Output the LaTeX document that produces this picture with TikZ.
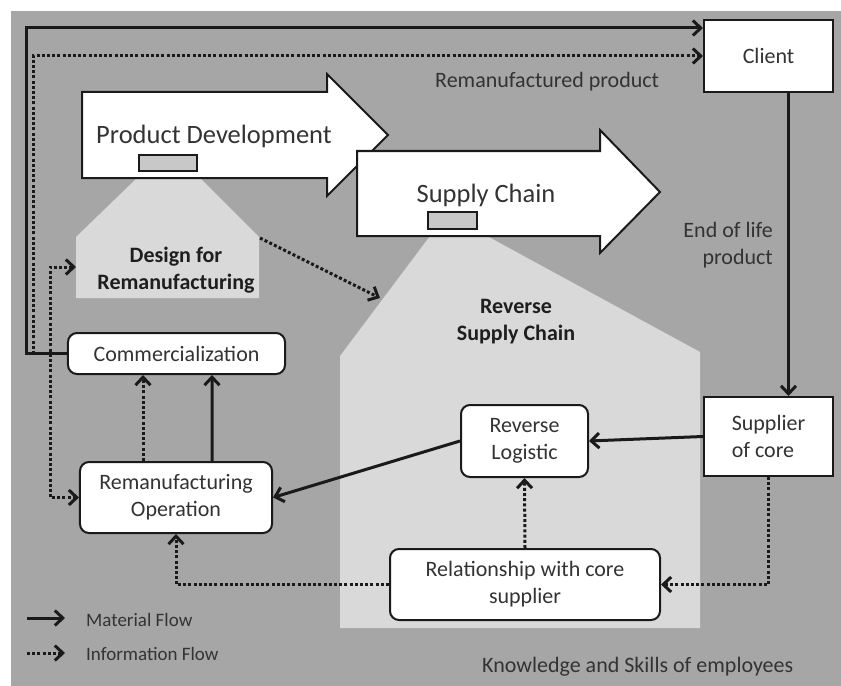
\documentclass[tikz,border=0pt]{standalone}
\usepackage{fontspec}
\setmainfont{Carlito}
\usetikzlibrary{arrows.meta}
\definecolor{bg}{HTML}{A6A6A6}
\definecolor{lightc}{HTML}{D9D9D9}
\definecolor{smallc}{HTML}{C8C8C8}
\definecolor{txt}{HTML}{333333}
\definecolor{txtb}{HTML}{1E1E1E}
\definecolor{linec}{HTML}{1A1A1A}
\newcommand{\bodysz}{\fontsize{22bp}{27bp}\selectfont}
\newcommand{\bigsz}{\fontsize{26.5bp}{30bp}\selectfont}
\newcommand{\legsz}{\fontsize{19bp}{23bp}\selectfont}
\tikzset{
  tip/.style={-{Straight Barb[length=8bp,width=15bp]}},
  mat/.style={line width=3bp, draw=linec, tip},
  info/.style={line width=3bp, draw=linec, dash pattern=on 3bp off 2.2bp, tip},
  box/.style={draw=linec, line width=2bp, fill=white, text=txt, font=\bodysz, align=center, inner sep=0pt},
  rbox/.style={box, rounded corners=9bp},
  bigarrow/.style={draw=linec, line width=2bp, fill=white},
  smallrect/.style={draw=linec, line width=1.8bp, fill=smallc},
  zone/.style={fill=lightc},
  lbl/.style={text=txt, font=\bodysz, inner sep=0pt},
  blbl/.style={text=txtb, font=\bodysz\bfseries, inner sep=0pt, align=center},
}
\begin{document}
\begin{tikzpicture}[x=1bp, y=-1bp]
\useasboundingbox (0,0) rectangle (841,686);
\fill[white] (0,0) rectangle (841,686);
\fill[bg] (11,11) rectangle (841,686);

% light zones
\fill[zone] (137,178) -- (200,178) -- (259,237) -- (259,298) -- (76,298) -- (76,237) -- cycle;
\fill[zone] (430,236) -- (487,236) -- (700,352) -- (700,628) -- (340,628) -- (340,356) -- cycle;

% big arrows
\draw[bigarrow] (82,92) -- (327,92) -- (327,74) -- (388,135) -- (327,196) -- (327,178) -- (82,178) -- cycle;
\draw[bigarrow] (357,151) -- (600,151) -- (600,130) -- (660,192) -- (600,253) -- (600,236) -- (357,236) -- cycle;
\draw[smallrect] (139,155) rectangle (197,171);
\draw[smallrect] (428,212) rectangle (477,229);
\node[lbl, font=\bigsz, anchor=base] (pdt) at (214,144) {Product Development};
\node[lbl, font=\bigsz, anchor=base] (sct) at (486,202) {Supply Chain};

% zone labels
\node[blbl] (dfrt) at (176,270) {Design for\\Remanufacturing};
\node[blbl] (rsct) at (516,322) {Reverse\\Supply Chain};

% boxes
\node[box, minimum width=129bp, minimum height=72bp] (client) at (768.5,56) {Client};
\node[box, minimum width=129bp, minimum height=79bp, align=left] (sup) at (768.5,436.5) {Supplier\\of core};
\node[rbox, minimum width=127bp, minimum height=72bp] (rl) at (524.5,441) {Reverse\\Logistic};
\node[rbox, minimum width=270bp, minimum height=71bp] (rel) at (525,584.5) {Relationship with core\\supplier};
\node[rbox, minimum width=192bp, minimum height=71bp] (remop) at (176,497.5) {Remanufacturing\\Operation};
\node[rbox, minimum width=217bp, minimum height=41bp] (comm) at (176.5,353.5) {Commercialization};

% free labels
\node[lbl, anchor=base west] (rpt) at (435,88) {Remanufactured product};
\node[lbl, anchor=east, align=right] (eolt) at (773,245.5) {End of life\\product};
\node[lbl, anchor=base west] (kst) at (482,672) {Knowledge and Skills of employees};

% coordinates for free ends
\coordinate (frameA) at (26,28);
\coordinate (infoA) at (33,354);
\coordinate (infoB) at (50,267);
\coordinate (dfrW) at (76,267);
\coordinate (dfrE) at (260,238);
\coordinate (rscW) at (380,298);

% connectors
\draw[mat] (comm.west) -| (frameA) -- (frameA -| client.west);
\draw[info] (infoA) |- (client.west);
\draw[info, {Straight Barb[length=8bp,width=15bp]}-{Straight Barb[length=8bp,width=15bp]}] (dfrW) -- (infoB) |- (remop.west);
\draw[info] (dfrE) -- (rscW);
\draw[mat] ([xshift=20bp]client.south) -- ([xshift=20bp]sup.north);
\draw[mat] (sup.west) -- (rl.east);
\draw[mat] (rl.west) -- (remop.east);
\draw[info] (sup.south) |- (rel.east);
\draw[info] (rel.north) -- (rl.south);
\draw[info] (rel.west) -| (remop.south);
\draw[info] ([xshift=-33bp]remop.north) -- ([xshift=-33.5bp]comm.south);
\draw[mat] ([xshift=36bp]remop.north) -- ([xshift=35.5bp]comm.south);

% legend
\coordinate (lg1a) at (27,618);
\coordinate (lg1b) at (65,618);
\coordinate (lg2a) at (27,653);
\coordinate (lg2b) at (65,653);
\draw[mat] (lg1a) -- (lg1b);
\draw[info] (lg2a) -- (lg2b);
\node[lbl, font=\legsz, anchor=base west] (lgt1) at (86,626) {Material Flow};
\node[lbl, font=\legsz, anchor=base west] (lgt2) at (86,660) {Information Flow};
\end{tikzpicture}
\end{document}
